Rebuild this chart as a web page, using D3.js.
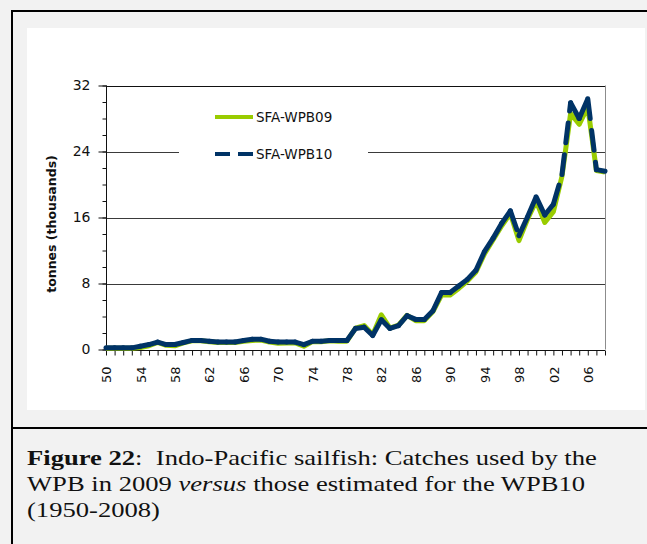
<!DOCTYPE html>
<html>
<head>
<meta charset="utf-8">
<script src="https://cdn.jsdelivr.net/npm/d3@7"></script>
<style>
  html, body { margin: 0; padding: 0; background: #f2f2f2; }
  svg { display: block; }
</style>
</head>
<body>
<div id="chart"></div>
<script>
// catches (thousand tonnes)
const years = d3.range(1950, 2009)

const wpb09 = [
  0.15, 0.15, 0.15, 0.15, 0.25, 0.45, 0.85, 0.5, 0.45, 0.8,
  1.05, 1.05, 0.95, 0.85, 0.85, 0.85, 1.0, 1.1, 1.15, 0.9,
  0.75, 0.8, 0.8, 0.4, 0.95, 0.95, 1.05, 1.0, 1.0, 2.6,
  2.9, 1.8, 4.2, 2.6, 2.95, 4.15, 3.5, 3.5, 4.6, 6.6,
  6.6, 7.4, 8.3, 9.4, 11.6, 13.3, 15.0, 16.5, 13.2, 15.8,
  18.0, 15.4, 16.7, 21.0, 28.6, 27.3, 29.4, 21.7, 21.5
]

const wpb10 = [
  0.2, 0.2, 0.2, 0.2, 0.4, 0.6, 0.9, 0.6, 0.6, 0.85,
  1.1, 1.1, 1.0, 0.9, 0.9, 0.9, 1.1, 1.25, 1.25, 1.0,
  0.9, 0.9, 0.9, 0.6, 1.0, 1.0, 1.1, 1.1, 1.1, 2.55,
  2.7, 1.7, 3.6, 2.55, 2.9, 4.1, 3.65, 3.65, 4.7, 6.9,
  6.9, 7.7, 8.5, 9.6, 11.9, 13.5, 15.3, 16.8, 13.8, 16.1,
  18.5, 16.3, 17.6, 21.2, 29.9, 28.0, 30.4, 21.8, 21.6
]

const seriesNames = ["SFA-WPB09", "SFA-WPB10"]
const yTicks = [0, 8, 16, 24, 32]
const xLabelYears = d3.range(1950, 2009, 4)

const width = 647
const height = 544
const green = "#99cc00"
const navy = "#003366"
const axisFont = "'DejaVu Sans', Verdana, sans-serif"

const svg = d3.select("#chart").append("svg")
  .attr("width", width)
  .attr("height", height)

// page, frame and the white chart area
svg.append("rect")
  .attr("width", width)
  .attr("height", height)
  .attr("fill", "#f2f2f2")

svg.append("rect")
  .attr("x", 12).attr("y", 11)
  .attr("width", 700).attr("height", 600)
  .attr("fill", "none")
  .attr("stroke", "#000")
  .attr("stroke-width", 2)

svg.append("line")
  .attr("x1", 12).attr("x2", width)
  .attr("y1", 428).attr("y2", 428)
  .attr("stroke", "#000")
  .attr("stroke-width", 2)

svg.append("rect")
  .attr("x", 27).attr("y", 28)
  .attr("width", 618).attr("height", 382)
  .attr("fill", "#fff")

const x = d3.scaleLinear().domain([1950, 2008]).range([106, 605])
const y = d3.scaleLinear().domain([0, 32]).range([349.5, 85.5])

const plot = svg.append("g")

// gridlines + plot frame
plot.append("g")
  .selectAll("line")
  .data(yTicks.filter(d => d > 0))
  .join("line")
    .attr("x1", x(1950)).attr("x2", x(2008))
    .attr("y1", d => Math.round(y(d)) + 0.5)
    .attr("y2", d => Math.round(y(d)) + 0.5)
    .attr("stroke", d => d === 32 ? "#111" : "#3a3a3a")
    .attr("stroke-width", 1)

plot.append("line")
  .attr("x1", Math.round(x(2008)) + 0.5).attr("x2", Math.round(x(2008)) + 0.5)
  .attr("y1", y(32)).attr("y2", y(0))
  .attr("stroke", "#8c8c8c")

// y axis: major ticks with labels, minor every 2
plot.append("g")
  .attr("transform", `translate(${Math.round(x(1950)) + 0.5},0)`)
  .call(d3.axisLeft(y).tickValues(d3.range(0, 33, 2)).tickSize(4).tickFormat(""))
  .call(g => g.select(".domain").remove())
  .call(g => g.selectAll("line").attr("stroke", "#111"))

plot.append("g")
  .attr("transform", `translate(${Math.round(x(1950)) + 0.5},0)`)
  .call(d3.axisLeft(y).tickValues(yTicks).tickSize(8).tickPadding(8))
  .call(g => g.select(".domain").attr("stroke", "#111").attr("d", `M0,${y(32)}V${y(0)}`))
  .call(g => g.selectAll("line").attr("stroke", "#111"))
  .call(g => g.selectAll("text")
    .attr("font-family", axisFont)
    .attr("font-size", 14)
    .attr("fill", "#111"))

// x axis: a tick every year, label every 4 years
const xAxis = plot.append("g")
  .attr("transform", `translate(0,${Math.round(y(0)) + 0.5})`)
  .call(d3.axisBottom(x).tickValues(years).tickSize(5).tickFormat(""))
  .call(g => g.select(".domain").attr("stroke", "#111").attr("d", `M${x(1950)},0H${x(2008)}`))
  .call(g => g.selectAll("line").attr("stroke", "#111"))

xAxis.append("g")
  .selectAll("text")
  .data(xLabelYears)
  .join("text")
    .attr("transform", d => `translate(${x(d) + 0.5},16) rotate(-90)`)
    .attr("text-anchor", "end")
    .attr("dy", "0.36em")
    .attr("font-family", axisFont)
    .attr("font-size", 13)
    .attr("fill", "#111")
    .text(d => String(d % 100).padStart(2, "0"))

// y title
svg.append("text")
  .attr("transform", "translate(52,224) rotate(-90)")
  .attr("text-anchor", "middle")
  .attr("dy", "0.35em")
  .attr("font-family", axisFont)
  .attr("font-weight", "bold")
  .attr("font-size", 12.5)
  .attr("fill", "#111")
  .text("tonnes (thousands)")

// legend sits on a white box that hides part of the 24 gridline
const legend = svg.append("g")
legend.append("rect")
  .attr("x", 179).attr("y", 98)
  .attr("width", 189).attr("height", 74)
  .attr("fill", "#fff")

const legendRows = legend.selectAll("g")
  .data(seriesNames)
  .join("g")
    .attr("transform", (d, i) => `translate(215,${117 + i * 37})`)

legendRows.append("line")
  .attr("x1", 0).attr("x2", 38)
  .attr("stroke", (d, i) => i ? navy : green)
  .attr("stroke-width", 4)
  .attr("stroke-dasharray", (d, i) => i ? "15,8" : null)

legendRows.append("text")
  .attr("x", 41)
  .attr("dy", "0.36em")
  .attr("font-family", axisFont)
  .attr("font-size", 13.5)
  .attr("fill", "#111")
  .text(d => d)

// series
const line = d3.line()
  .x(d => x(d[0]))
  .y(d => y(d[1]))

plot.append("path")
  .datum(d3.zip(years, wpb09))
  .attr("d", line)
  .attr("fill", "none")
  .attr("stroke", green)
  .attr("stroke-width", 5)
  .attr("stroke-linejoin", "round")

// the dash pattern restarts on every segment, so only long (steep) ones show gaps
plot.append("g")
  .selectAll("path")
  .data(d3.pairs(d3.zip(years, wpb10)))
  .join("path")
    .attr("d", line)
    .attr("fill", "none")
    .attr("stroke", navy)
    .attr("stroke-width", 5)
    .attr("stroke-linecap", "round")
    .attr("stroke-dasharray", "20,12")

// caption (the source is stretched sideways, so fit line 1 to its width)
const capLines = [
  [["Figure 22", "bold"], [":  Indo-Pacific sailfish: Catches used by the", ""]],
  [["WPB in 2009 ", ""], ["versus", "italic"], [" those estimated for the WPB10", ""]],
  [["(1950-2008)", ""]]
]

const caption = svg.append("g")

const capTexts = capLines.map((parts, i) => {
  const t = caption.append("text")
    .attr("x", 0)
    .attr("y", 465 + i * 25.8)
    .attr("font-family", "'Liberation Serif', 'Times New Roman', serif")
    .attr("font-size", 22)
    .attr("fill", "#111")
    .style("white-space", "pre")
  parts.forEach(([txt, st]) => {
    const ts = t.append("tspan").text(txt)
    if (st === "bold") ts.attr("font-weight", "bold")
    if (st === "italic") ts.attr("font-style", "italic")
  })
  return t
})

const sx = 570 / capTexts[0].node().getComputedTextLength()
caption.attr("transform", `translate(27,0) scale(${sx},1)`)
</script>
</body>
</html>
